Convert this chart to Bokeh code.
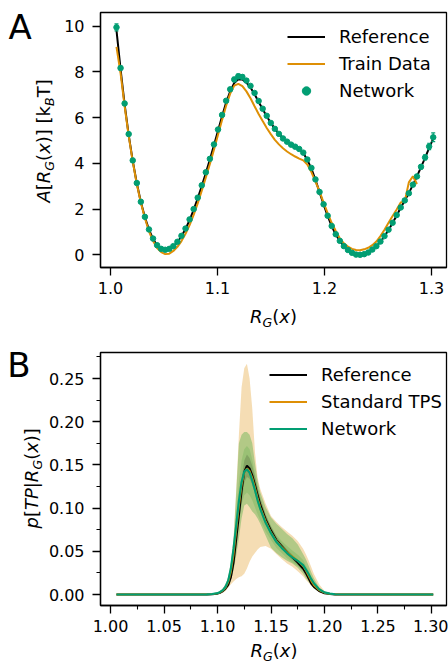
import math
import numpy as np
from bokeh.plotting import figure
from bokeh.models import (Range1d, FixedTicker, NumeralTickFormatter, Label, Legend,
                          LegendItem, ColumnDataSource, Whisker, TeeHead)
from bokeh.layouts import column, row
from bokeh.embed import file_html
from bokeh.resources import INLINE

# ---------------- Panel A data ----------------
rg_a = np.linspace(1.0056, 1.3016, 79)  # bin centres of R_G(x)

free_network = [9.95, 8.17, 6.62, 5.28, 4.13, 3.14, 2.32, 1.66, 1.11, 0.71,
                0.42, 0.26, 0.22, 0.26, 0.38, 0.57, 0.83, 1.15, 1.55, 2.00,
                2.50, 3.04, 3.61, 4.20, 4.83, 5.48, 6.12, 6.74, 7.24, 7.67,
                7.81, 7.78, 7.62, 7.39, 7.08, 6.73, 6.39, 6.08, 5.77, 5.51,
                5.29, 5.09, 4.95, 4.82, 4.73, 4.63, 4.47, 4.17, 3.80, 3.30,
                2.75, 2.21, 1.71, 1.26, 0.90, 0.61, 0.38, 0.21, 0.09, 0.01,
                0.00, 0.03, 0.10, 0.23, 0.38, 0.58, 0.82, 1.10, 1.40, 1.74,
                2.07, 2.38, 2.69, 3.07, 3.43, 3.85, 4.26, 4.74, 5.14]

free_network_err = [0.15, 0.08, 0.05, 0.05, 0.05, 0.05, 0.05, 0.05, 0.05, 0.05,
                    0.05, 0.05, 0.05, 0.05, 0.05, 0.05, 0.05, 0.05, 0.05, 0.05,
                    0.05, 0.05, 0.05, 0.05, 0.05, 0.05, 0.05, 0.05, 0.07, 0.09,
                    0.10, 0.09, 0.07, 0.05, 0.05, 0.05, 0.05, 0.05, 0.05, 0.05,
                    0.05, 0.05, 0.05, 0.05, 0.05, 0.05, 0.05, 0.05, 0.05, 0.05,
                    0.05, 0.05, 0.05, 0.05, 0.05, 0.05, 0.05, 0.05, 0.05, 0.05,
                    0.05, 0.05, 0.05, 0.05, 0.05, 0.05, 0.05, 0.05, 0.05, 0.05,
                    0.05, 0.06, 0.06, 0.07, 0.08, 0.09, 0.11, 0.14, 0.19]

free_reference = [9.82, 8.12, 6.58, 5.25, 4.11, 3.13, 2.31, 1.64, 1.10, 0.70,
                  0.41, 0.25, 0.20, 0.24, 0.36, 0.55, 0.81, 1.13, 1.52, 1.97,
                  2.47, 3.01, 3.58, 4.17, 4.79, 5.43, 6.06, 6.66, 7.15, 7.52,
                  7.68, 7.67, 7.53, 7.32, 7.03, 6.70, 6.37, 6.06, 5.77, 5.51,
                  5.30, 5.10, 4.96, 4.83, 4.73, 4.62, 4.45, 4.15, 3.77, 3.28,
                  2.74, 2.20, 1.70, 1.26, 0.89, 0.60, 0.37, 0.20, 0.08, 0.01,
                  0.00, 0.03, 0.10, 0.22, 0.37, 0.57, 0.81, 1.09, 1.39, 1.72,
                  2.06, 2.38, 2.70, 3.06, 3.43, 3.84, 4.24, 4.68, 5.08]

free_train = [9.10, 7.95, 6.50, 5.20, 4.08, 3.10, 2.28, 1.60, 1.03, 0.60,
              0.30, 0.12, 0.03, 0.05, 0.17, 0.35, 0.60, 0.92, 1.30, 1.75,
              2.25, 2.80, 3.38, 3.97, 4.60, 5.25, 5.90, 6.52, 7.05, 7.40,
              7.48, 7.38, 7.15, 6.85, 6.50, 6.16, 5.85, 5.55, 5.28, 5.03,
              4.83, 4.66, 4.52, 4.40, 4.30, 4.21, 4.13, 3.95, 3.62, 3.20,
              2.78, 2.28, 1.82, 1.40, 1.04, 0.72, 0.50, 0.36, 0.26, 0.21,
              0.20, 0.24, 0.31, 0.42, 0.58, 0.82, 1.10, 1.40, 1.70, 1.98,
              2.29, 2.34, 3.17, 3.44, 3.10]

xticks_a = [1.0, 1.1, 1.2, 1.3]
yticks_a = [0, 2, 4, 6, 8, 10]

# ---------------- Panel B data ----------------
rg_b = [1.0056, 1.09, 1.095, 1.10, 1.1025, 1.105, 1.1075, 1.11, 1.1125, 1.115,
        1.1175, 1.12, 1.1225, 1.125, 1.1275, 1.13, 1.1325, 1.135, 1.1375, 1.14,
        1.145, 1.15, 1.155, 1.16, 1.165, 1.17, 1.175, 1.18, 1.1825, 1.185,
        1.1875, 1.19, 1.195, 1.20, 1.205, 1.21, 1.3016]

p_ref = [0, 0, 0.0003, 0.001, 0.002, 0.004, 0.007, 0.011, 0.020, 0.037,
         0.064, 0.092, 0.120, 0.142, 0.149, 0.146, 0.138, 0.127, 0.115, 0.104,
         0.087, 0.074, 0.063, 0.056, 0.049, 0.043, 0.037, 0.030, 0.025, 0.019,
         0.013, 0.009, 0.004, 0.0015, 0.0005, 0.0001, 0]
ref_hi = [0, 0, 0.0004, 0.0013, 0.0027, 0.005, 0.009, 0.014, 0.025, 0.044,
          0.074, 0.104, 0.134, 0.155, 0.162, 0.158, 0.149, 0.137, 0.124, 0.112,
          0.093, 0.079, 0.067, 0.059, 0.052, 0.046, 0.040, 0.033, 0.028, 0.021,
          0.015, 0.010, 0.005, 0.002, 0.0007, 0.0002, 0]
ref_lo = [0, 0, 0.0002, 0.0007, 0.0013, 0.003, 0.005, 0.008, 0.015, 0.030,
          0.054, 0.080, 0.106, 0.129, 0.136, 0.134, 0.127, 0.117, 0.106, 0.096,
          0.081, 0.069, 0.059, 0.053, 0.046, 0.040, 0.034, 0.027, 0.022, 0.017,
          0.011, 0.008, 0.003, 0.001, 0.0003, 0, 0]

p_tps = [0, 0.0001, 0.0004, 0.0012, 0.0025, 0.0045, 0.008, 0.014, 0.026, 0.046,
         0.074, 0.102, 0.126, 0.141, 0.146, 0.143, 0.135, 0.124, 0.112, 0.101,
         0.085, 0.072, 0.062, 0.055, 0.049, 0.044, 0.039, 0.033, 0.028, 0.022,
         0.016, 0.011, 0.005, 0.002, 0.0007, 0.0002, 0]
tps_lo = [0, 0, 0, 0.0005, 0.001, 0.002, 0.004, 0.008, 0.012, 0.015,
          0.018, 0.020, 0.021, 0.024, 0.030, 0.038, 0.044, 0.048, 0.052, 0.055,
          0.056, 0.053, 0.047, 0.041, 0.036, 0.032, 0.027, 0.021, 0.017, 0.014,
          0.010, 0.007, 0.003, 0.001, 0.0003, 0, 0]
tps_hi = [0, 0.0003, 0.001, 0.002, 0.004, 0.007, 0.012, 0.020, 0.037, 0.065,
          0.122, 0.185, 0.240, 0.262, 0.267, 0.250, 0.215, 0.165, 0.135, 0.122,
          0.105, 0.091, 0.084, 0.078, 0.073, 0.068, 0.062, 0.053, 0.047, 0.040,
          0.032, 0.024, 0.012, 0.004, 0.0012, 0.0003, 0]

p_net = [0, 0.0002, 0.0006, 0.0015, 0.003, 0.005, 0.009, 0.016, 0.030, 0.053,
         0.080, 0.108, 0.130, 0.142, 0.145, 0.141, 0.132, 0.121, 0.109, 0.099,
         0.083, 0.071, 0.061, 0.054, 0.048, 0.043, 0.039, 0.034, 0.029, 0.024,
         0.018, 0.013, 0.006, 0.0025, 0.001, 0.0003, 0]
net_hi2 = [0, 0.0003, 0.0008, 0.002, 0.004, 0.007, 0.012, 0.020, 0.036, 0.063,
           0.118, 0.175, 0.185, 0.188, 0.188, 0.185, 0.175, 0.152, 0.132, 0.118,
           0.101, 0.089, 0.082, 0.076, 0.070, 0.065, 0.058, 0.047, 0.041, 0.034,
           0.026, 0.019, 0.008, 0.003, 0.001, 0.0003, 0]
net_lo2 = [0, 0, 0.0002, 0.0008, 0.0015, 0.003, 0.005, 0.009, 0.016, 0.028,
           0.045, 0.065, 0.088, 0.103, 0.105, 0.101, 0.096, 0.093, 0.088, 0.082,
           0.068, 0.054, 0.048, 0.043, 0.039, 0.036, 0.031, 0.024, 0.019, 0.015,
           0.011, 0.007, 0.003, 0.001, 0.0003, 0, 0]
net_hi1 = [0, 0.0002, 0.0007, 0.0017, 0.0035, 0.006, 0.010, 0.018, 0.033, 0.058,
           0.092, 0.130, 0.155, 0.168, 0.172, 0.168, 0.156, 0.140, 0.124, 0.111,
           0.092, 0.079, 0.069, 0.062, 0.056, 0.051, 0.046, 0.040, 0.034, 0.028,
           0.021, 0.015, 0.007, 0.003, 0.001, 0.0003, 0]
net_lo1 = [0, 0.0001, 0.0004, 0.001, 0.002, 0.004, 0.007, 0.012, 0.024, 0.042,
           0.064, 0.085, 0.104, 0.115, 0.118, 0.115, 0.109, 0.101, 0.093, 0.086,
           0.073, 0.063, 0.054, 0.048, 0.042, 0.037, 0.033, 0.028, 0.024, 0.020,
           0.015, 0.011, 0.005, 0.002, 0.0008, 0.0002, 0]

xticks_b = [1.00, 1.05, 1.10, 1.15, 1.20, 1.25, 1.30]
xminor_b = [1.025, 1.075, 1.125, 1.175, 1.225, 1.275]
yticks_b = [0.00, 0.05, 0.10, 0.15, 0.20, 0.25]
yminor_b = [0.025, 0.075, 0.125, 0.175, 0.225, 0.275]

# ---------------- styling ----------------
ORANGE = "#DE8F05"
GREEN = "#029E73"
BAND_GREEN = "#2ca02c"
FONT = "DejaVu Sans"
XR = (0.99065, 1.31402)
MID = 0.346   # distance (em) from the "middle" anchor down to the alphabetic baseline

# DejaVu Sans advance widths (em)
W = {'A': 0.684, 'B': 0.686, 'G': 0.775, 'P': 0.603, 'R': 0.695, 'T': 0.611,
     'k': 0.579, 'p': 0.635, 'x': 0.592, '(': 0.390, ')': 0.390, '[': 0.390,
     ']': 0.390, '|': 0.337, ' ': 0.318}


def tw(s, size):
    return sum(W.get(c, 0.6) for c in s) * size


def strip(width, height):
    """A frame-only canvas (no axes) used to host axis-label / panel-letter text."""
    f = figure(width=width, height=height, output_backend="svg", toolbar_location=None,
               x_range=Range1d(0, width), y_range=Range1d(0, height),
               x_axis_type=None, y_axis_type=None,
               min_border_left=0, min_border_right=0, min_border_top=0, min_border_bottom=0)
    f.xgrid.visible = False
    f.ygrid.visible = False
    f.outline_line_color = None
    f.background_fill_color = "white"
    f.border_fill_color = "white"
    return f


def math_label(p, pieces, cx, cy, size=18, vertical=False):
    """Mixed italic/subscript label; (cx, cy) = baseline start in canvas px."""
    cum = 0.0
    for text, italic, small in pieces:
        fs = size * 0.7 if small else size
        shift = 3.5 if small else 0.0
        stripped = text.lstrip(" ")
        cum += tw(text[:len(text) - len(stripped)], fs)
        kw = dict(x=cx, y=cy, x_units="canvas", y_units="canvas", text=stripped,
                  text_font=FONT, text_font_size=f"{fs:.1f}px",
                  text_font_style="italic" if italic else "normal",
                  text_color="black", text_align="left", text_baseline="middle")
        if vertical:
            lab = Label(x_offset=shift - MID * fs, y_offset=cum, angle=math.pi / 2, **kw)
        else:
            lab = Label(x_offset=cum, y_offset=MID * fs - shift, **kw)
        p.add_layout(lab)
        cum += tw(stripped, fs)


def letter(p, text, cx, cy, size=34):
    p.add_layout(Label(x=cx, y=cy, x_units="canvas", y_units="canvas", text=text,
                       y_offset=MID * size, text_font=FONT, text_font_size=f"{size}px",
                       text_color="black", text_baseline="middle", text_align="left"))


def style(p):
    p.xgrid.visible = False
    p.ygrid.visible = False
    p.outline_line_color = "black"
    p.outline_line_width = 1.3
    p.outline_line_alpha = 1.0
    p.background_fill_color = "white"
    p.border_fill_color = "white"
    for ax in (p.xaxis[0], p.yaxis[0]):
        ax.axis_line_width = 1.3
        ax.axis_line_color = "black"
        ax.major_tick_line_width = 1.3
        ax.major_tick_line_color = "black"
        ax.minor_tick_line_width = 1.1
        ax.minor_tick_line_color = "black"
        ax.major_tick_out = 8
        ax.major_tick_in = 0
        ax.minor_tick_out = 4
        ax.minor_tick_in = 0
        ax.major_label_text_font = FONT
        ax.major_label_text_font_size = "16px"
        ax.major_label_text_color = "black"
    p.yaxis[0].major_label_standoff = 8
    p.xaxis[0].major_label_standoff = 6


def make_legend(items, loc):
    return Legend(items=items, location=loc, orientation="vertical",
                  glyph_width=38, glyph_height=21, label_height=21,
                  label_standoff=14, spacing=6, padding=0, margin=0,
                  border_line_alpha=0, background_fill_alpha=0,
                  label_text_font=FONT, label_text_font_size="18px",
                  label_text_color="black")


R_G_X = [("R", True, False), ("G", True, True), ("(", False, False),
         ("x", True, False), (")", False, False)]

# ---------------- Panel A ----------------
YA = (-0.555, 10.6)
pa = figure(width=392, height=302, output_backend="svg", toolbar_location=None,
            x_range=Range1d(*XR), y_range=Range1d(*YA),
            min_border_left=44, min_border_right=2, min_border_top=12, min_border_bottom=35)
style(pa)
pa.xaxis[0].ticker = FixedTicker(ticks=xticks_a, minor_ticks=[])
pa.yaxis[0].ticker = FixedTicker(ticks=yticks_a, minor_ticks=[])
pa.xaxis[0].formatter = NumeralTickFormatter(format="0.0")
pa.yaxis[0].formatter = NumeralTickFormatter(format="0")

r_ref = pa.line(rg_a, free_reference, line_color="black", line_width=2)
r_train = pa.line(rg_a[:len(free_train)], free_train, line_color=ORANGE, line_width=2)

src_net = ColumnDataSource(dict(
    x=rg_a, y=free_network,
    lo=[v - e for v, e in zip(free_network, free_network_err)],
    hi=[v + e for v, e in zip(free_network, free_network_err)]))
pa.add_layout(Whisker(source=src_net, base="x", lower="lo", upper="hi", dimension="height",
                      line_color=GREEN, line_width=1.2, level="glyph",
                      lower_head=TeeHead(size=4, line_color=GREEN, line_width=1.2),
                      upper_head=TeeHead(size=4, line_color=GREEN, line_width=1.2)))
r_pts = pa.scatter("x", "y", source=src_net, size=5.5, fill_color=GREEN, line_color=GREEN)

pa.add_layout(make_legend([
    LegendItem(label="Reference", renderers=[r_ref]),
    LegendItem(label="Train Data", renderers=[r_train]),
    LegendItem(label="Network", renderers=[r_pts]),
], (187, 166)))

la = strip(56, 338)       # left strip: panel letter + y label
math_label(la, [("A", True, False), ("[", False, False), ("R", True, False), ("G", True, True),
                ("(", False, False), ("x", True, False), (")]", False, False),
                (" [k", False, False), ("B", True, True), ("T]", False, False)],
           49.5, 202, vertical=True)
letter(la, "A", 8, 38)
xa = strip(392, 36)       # bottom strip: x label
math_label(xa, R_G_X, 193.5, 20.5)

# ---------------- Panel B ----------------
YB = (-0.01273, 0.2801)
pb = figure(width=404, height=302, output_backend="svg", toolbar_location=None,
            x_range=Range1d(*XR), y_range=Range1d(*YB),
            min_border_left=56, min_border_right=2, min_border_top=14, min_border_bottom=35)
style(pb)
pb.xaxis[0].ticker = FixedTicker(ticks=xticks_b, minor_ticks=xminor_b)
pb.yaxis[0].ticker = FixedTicker(ticks=yticks_b, minor_ticks=yminor_b)
pb.xaxis[0].formatter = NumeralTickFormatter(format="0.00")
pb.yaxis[0].formatter = NumeralTickFormatter(format="0.00")

pb.varea(x=rg_b, y1=tps_lo, y2=tps_hi, fill_color=ORANGE, fill_alpha=0.3)
pb.varea(x=rg_b, y1=net_lo2, y2=net_hi2, fill_color=BAND_GREEN, fill_alpha=0.33)
pb.varea(x=rg_b, y1=net_lo1, y2=net_hi1, fill_color=BAND_GREEN, fill_alpha=0.18)
pb.varea(x=rg_b, y1=ref_lo, y2=ref_hi, fill_color="black", fill_alpha=0.15)
b_ref = pb.line(rg_b, p_ref, line_color="black", line_width=2)
b_tps = pb.line(rg_b, p_tps, line_color=ORANGE, line_width=1.8)
b_net = pb.line(rg_b, p_net, line_color=GREEN, line_width=2.2)

pb.add_layout(make_legend([
    LegendItem(label="Reference", renderers=[b_ref]),
    LegendItem(label="Standard TPS", renderers=[b_tps]),
    LegendItem(label="Network", renderers=[b_net]),
], (169, 166)))

lb = strip(44, 325)
math_label(lb, [("p", True, False), ("[", False, False), ("TP", True, False), ("|", False, False),
                ("R", True, False), ("G", True, True), ("(", False, False),
                ("x", True, False), (")]", False, False)],
           37.7, 190, vertical=True)
letter(lb, "B", 6.7, 38.7)
xb = strip(404, 23)
math_label(xb, R_G_X, 206, 16.5)

layout = column(row(la, column(pa, xa, spacing=0), spacing=0),
                row(lb, column(pb, xb, spacing=0), spacing=0), spacing=0)
open("out.html", "w").write(file_html(layout, INLINE))
